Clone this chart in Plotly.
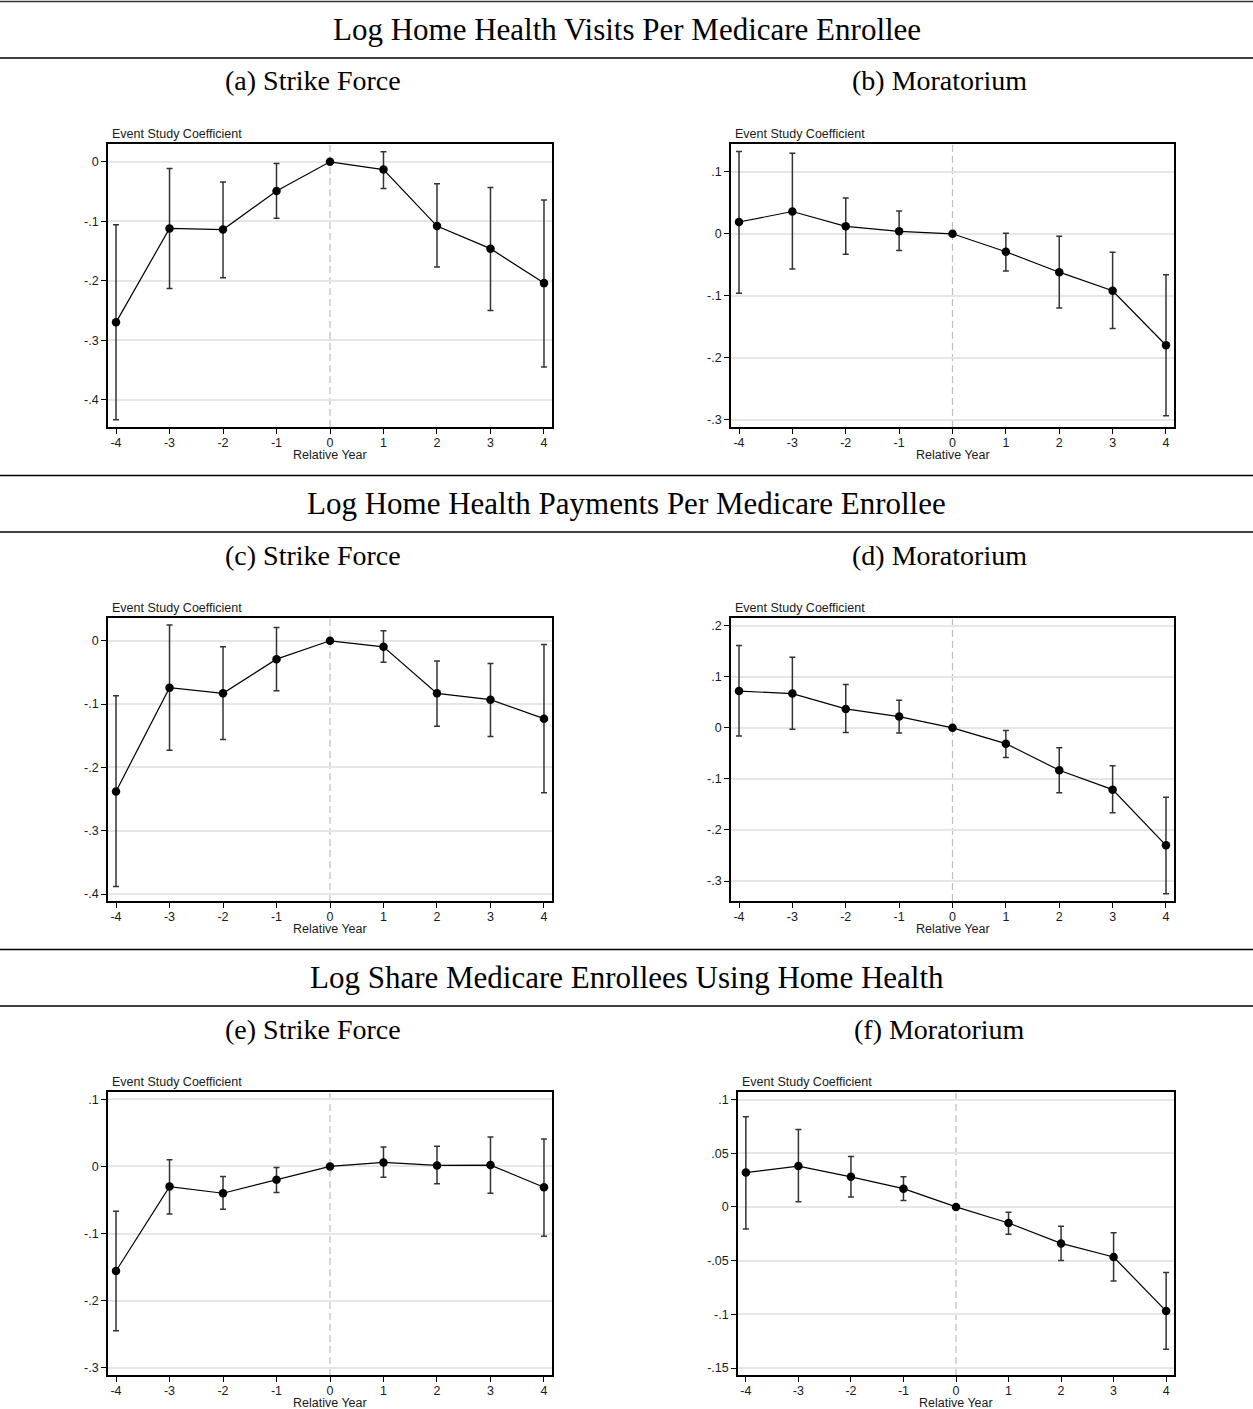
import plotly.graph_objects as go

# Event-study estimates: coefficient and 95% CI bounds by relative year
rel_years = [-4, -3, -2, -1, 0, 1, 2, 3, 4]

visits_sf_coef = [-0.270, -0.112, -0.114, -0.049, 0.0, -0.013, -0.108, -0.146, -0.204]
visits_sf_lo = [-0.434, -0.213, -0.195, -0.095, 0.0, -0.045, -0.177, -0.250, -0.345]
visits_sf_hi = [-0.106, -0.011, -0.034, -0.003, 0.0, 0.017, -0.037, -0.043, -0.064]

visits_mor_coef = [0.019, 0.036, 0.012, 0.004, 0.0, -0.029, -0.062, -0.092, -0.180]
visits_mor_lo = [-0.096, -0.057, -0.033, -0.027, 0.0, -0.060, -0.120, -0.153, -0.294]
visits_mor_hi = [0.133, 0.130, 0.058, 0.037, 0.0, 0.001, -0.004, -0.030, -0.066]

pay_sf_coef = [-0.238, -0.074, -0.083, -0.029, 0.0, -0.0095, -0.083, -0.093, -0.123]
pay_sf_lo = [-0.388, -0.173, -0.156, -0.079, 0.0, -0.034, -0.135, -0.151, -0.240]
pay_sf_hi = [-0.087, 0.025, -0.0095, 0.021, 0.0, 0.016, -0.032, -0.036, -0.006]

pay_mor_coef = [0.072, 0.067, 0.037, 0.022, 0.0, -0.031, -0.083, -0.121, -0.230]
pay_mor_lo = [-0.016, -0.003, -0.009, -0.010, 0.0, -0.058, -0.127, -0.166, -0.325]
pay_mor_hi = [0.161, 0.138, 0.085, 0.054, 0.0, -0.005, -0.039, -0.074, -0.136]

share_sf_coef = [-0.156, -0.030, -0.040, -0.020, 0.0, 0.006, 0.0015, 0.002, -0.031]
share_sf_lo = [-0.245, -0.071, -0.064, -0.039, 0.0, -0.016, -0.026, -0.040, -0.104]
share_sf_hi = [-0.067, 0.010, -0.015, -0.0015, 0.0, 0.029, 0.030, 0.044, 0.041]

share_mor_coef = [0.032, 0.038, 0.028, 0.017, 0.0, -0.015, -0.034, -0.0466, -0.097]
share_mor_lo = [-0.0205, 0.0047, 0.0093, 0.0059, 0.0, -0.0255, -0.050, -0.069, -0.1326]
share_mor_hi = [0.084, 0.072, 0.047, 0.028, 0.0, -0.005, -0.018, -0.024, -0.061]

# y-axis tick values and Stata-style labels for each panel
ticks_a = [0, -0.1, -0.2, -0.3, -0.4]
labels_a = ["0", "-.1", "-.2", "-.3", "-.4"]
ticks_b = [0.1, 0, -0.1, -0.2, -0.3]
labels_b = [".1", "0", "-.1", "-.2", "-.3"]
ticks_c = [0, -0.1, -0.2, -0.3, -0.4]
labels_c = ["0", "-.1", "-.2", "-.3", "-.4"]
ticks_d = [0.2, 0.1, 0, -0.1, -0.2, -0.3]
labels_d = [".2", ".1", "0", "-.1", "-.2", "-.3"]
ticks_e = [0.1, 0, -0.1, -0.2, -0.3]
labels_e = [".1", "0", "-.1", "-.2", "-.3"]
ticks_f = [0.1, 0.05, 0, -0.05, -0.1, -0.15]
labels_f = [".1", ".05", "0", "-.05", "-.1", "-.15"]

section_titles = [
    "Log Home Health Visits Per Medicare Enrollee",
    "Log Home Health Payments Per Medicare Enrollee",
    "Log Share Medicare Enrollees Using Home Health",
]
panel_titles = ["(a) Strike Force", "(b) Moratorium", "(c) Strike Force",
                "(d) Moratorium", "(e) Strike Force", "(f) Moratorium"]

W, H = 1253, 1409


def px(x):
    return x / W


def py(y):
    return 1 - y / H


# panel frames in pixels: (left, right, top, bottom) and y-ranges
panels = [
    dict(coef=visits_sf_coef, lo=visits_sf_lo, hi=visits_sf_hi, tv=ticks_a, tt=labels_a,
         box=(108, 552, 144, 427), yr=[-0.446, 0.030]),
    dict(coef=visits_mor_coef, lo=visits_mor_lo, hi=visits_mor_hi, tv=ticks_b, tt=labels_b,
         box=(731, 1174, 144, 427), yr=[-0.312, 0.145]),
    dict(coef=pay_sf_coef, lo=pay_sf_lo, hi=pay_sf_hi, tv=ticks_c, tt=labels_c,
         box=(108, 552, 618, 901), yr=[-0.411, 0.036]),
    dict(coef=pay_mor_coef, lo=pay_mor_lo, hi=pay_mor_hi, tv=ticks_d, tt=labels_d,
         box=(731, 1174, 618, 901), yr=[-0.339, 0.215]),
    dict(coef=share_sf_coef, lo=share_sf_lo, hi=share_sf_hi, tv=ticks_e, tt=labels_e,
         box=(108, 552, 1092, 1375), yr=[-0.311, 0.111]),
    dict(coef=share_mor_coef, lo=share_mor_lo, hi=share_mor_hi, tv=ticks_f, tt=labels_f,
         box=(738, 1174, 1092, 1375), yr=[-0.1565, 0.107]),
]

fig = go.Figure()
axis_font = dict(family="Liberation Sans, Arial, sans-serif", size=12.5, color="#1a1a1a")
serif = "Liberation Serif, Times New Roman, serif"

layout = dict(
    width=W, height=H,
    margin=dict(l=0, r=0, t=0, b=0),
    paper_bgcolor="white", plot_bgcolor="white",
    showlegend=False,
)
shapes = []
annotations = []

for i, p in enumerate(panels):
    n = i + 1
    xa = "x" if n == 1 else f"x{n}"
    ya = "y" if n == 1 else f"y{n}"
    left, right, top, bottom = p["box"]

    err_plus = [h - c for h, c in zip(p["hi"], p["coef"])]
    err_minus = [c - l for c, l in zip(p["coef"], p["lo"])]

    fig.add_trace(go.Scatter(
        x=rel_years, y=p["coef"], xaxis=xa, yaxis=ya,
        mode="lines+markers",
        line=dict(color="black", width=1.2),
        marker=dict(color="black", size=8.5),
        error_y=dict(type="data", symmetric=False, array=err_plus, arrayminus=err_minus,
                     color="#333333", thickness=1.5, width=3),
        hoverinfo="skip",
    ))

    layout[f"xaxis{n if n > 1 else ''}"] = dict(
        domain=[px(left), px(right)], anchor=ya, range=[-4.15, 4.15],
        tickvals=rel_years, ticktext=[str(v) for v in rel_years],
        showgrid=False, zeroline=False,
        showline=True, mirror=True, linecolor="black", linewidth=1.6,
        ticks="outside", ticklen=5, tickwidth=1.2, tickcolor="black",
        ticklabelstandoff=-2,
        tickfont=axis_font,
    )
    layout[f"yaxis{n if n > 1 else ''}"] = dict(
        domain=[py(bottom), py(top)], anchor=xa, range=p["yr"],
        tickvals=p["tv"], ticktext=p["tt"],
        showgrid=True, gridcolor="#e6e6e6", gridwidth=1.5, zeroline=False,
        showline=True, mirror=True, linecolor="black", linewidth=1.6,
        ticks="outside", ticklen=5, tickwidth=1.2, tickcolor="black",
        tickfont=axis_font,
    )

    # reference line at the base year
    shapes.append(dict(type="line", xref=xa, yref=f"{ya} domain", x0=0, x1=0, y0=0, y1=1,
                       line=dict(color="#bdbdbd", width=1.2, dash="7px,4px"), layer="below"))

    annotations.append(dict(text="Event Study Coefficient", xref="paper", yref="paper",
                            x=px(left + 2), y=py(top - 10), xanchor="left", yanchor="middle",
                            showarrow=False, font=axis_font))
    annotations.append(dict(text="Relative Year", xref="paper", yref="paper",
                            x=px((left + right) / 2), y=py(bottom + 28), xanchor="center",
                            yanchor="middle", showarrow=False, font=axis_font))

# section headings, sub-panel captions and horizontal rules
for g, title in enumerate(section_titles):
    off = 474 * g
    annotations.append(dict(text=title, xref="paper", yref="paper", x=0.5, y=py(29 + off),
                            xanchor="center", yanchor="middle", showarrow=False,
                            font=dict(family=serif, size=31, color="black")))
    for k, cx in enumerate([313, 939]):
        annotations.append(dict(text=panel_titles[2 * g + k], xref="paper", yref="paper",
                                x=px(cx), y=py(81 + off), xanchor="center", yanchor="middle",
                                showarrow=False,
                                font=dict(family=serif, size=28, color="black")))
    top_rule = 1.5 + off
    shapes.append(dict(type="line", xref="paper", yref="paper", x0=0, x1=1,
                       y0=py(top_rule), y1=py(top_rule),
                       line=dict(color="#333333" if g == 0 else "black", width=1.6)))
    shapes.append(dict(type="line", xref="paper", yref="paper", x0=0, x1=1,
                       y0=py(58 + off), y1=py(58 + off),
                       line=dict(color="black", width=1.6)))

layout["shapes"] = shapes
layout["annotations"] = annotations
fig.update_layout(**layout)

fig.write_html("out.html")
